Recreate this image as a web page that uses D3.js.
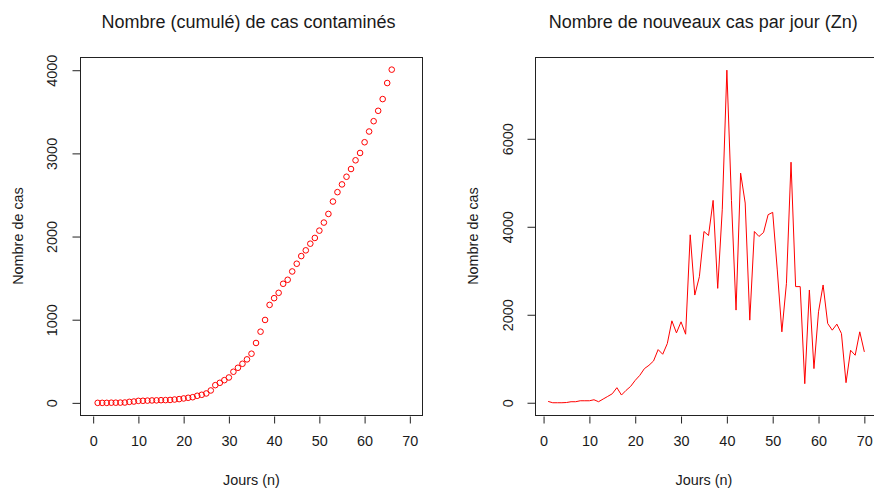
<!DOCTYPE html>
<meta charset="UTF-8">

<head>
    <title>Nombre de cas</title>
</head>
<style>
    body {
        margin: 0;
        background: #fff;
    }

    text {
        font-family: "Liberation Sans", Arial, sans-serif;
        fill: #1a1a1a;
    }
</style>

<body>
    <div id="chart"></div>

    <script src="https://cdn.jsdelivr.net/npm/d3@7"></script>
    <script type="text/javascript">

        // jours 1..66 (gauche) et 1..70 (droite)
        var cumulDays = d3.range(1, 67);
        var cumulCases = [0, 0, 0, 2, 2, 3, 4, 12, 16, 24,
            25, 27, 29, 30, 32, 33, 35, 40, 45, 53,
            61, 68, 85, 97, 113, 149, 213, 241, 273, 305,
            374, 422, 470, 523, 591, 720, 856, 997, 1178, 1259,
            1323, 1432, 1480, 1580, 1673, 1765, 1834, 1914, 1983, 2071,
            2168, 2272, 2421, 2534, 2627, 2719, 2812, 2917, 3005, 3134,
            3263, 3387, 3512, 3653, 3846, 4007];

        var newDays = d3.range(1, 71);
        var newCases = [30, 0, 0, 0, 5, 23, 23, 45, 45, 45,
            68, 23, 84, 144, 205, 342, 175, 281, 372, 509,
            623, 775, 851, 950, 1208, 1102, 1345, 1862, 1588, 1839,
            1558, 3817, 2448, 2866, 3893, 3802, 4600, 2600, 4400, 7560,
            4600, 2106, 5220, 4540, 1878, 3893, 3780, 3870, 4275, 4328,
            3019, 1612, 2715, 5468, 2640, 2640, 433, 2563, 776, 2068,
            2677, 1802, 1650, 1787, 1574, 456, 1193, 1080, 1612, 1156];

        // axes
        var xTicks = [0, 10, 20, 30, 40, 50, 60, 70];
        var cumulTicks = [0, 1000, 2000, 3000, 4000];
        var newTicks = [0, 2000, 4000, 6000];
        var cumulXLim = [-2.8, 72.8];
        var cumulYLim = [-152, 4153];
        var newXLim = [-1.76, 72.76];
        var newYLim = [-290, 7848];

        var w = 874;
        var h = 490;
        var svg = d3.select("#chart")
            .append("svg")
            .attr("width", w)
            .attr("height", h);

        function panel(opt) {
            var x = d3.scaleLinear().domain(opt.xlim).range([opt.left, opt.right]);
            var y = d3.scaleLinear().domain(opt.ylim).range([415.5, 57.5]);
            var g = svg.append("g");

            // cadre
            g.append("rect")
                .attr("x", opt.left)
                .attr("y", 57.5)
                .attr("width", opt.right - opt.left)
                .attr("height", 358)
                .attr("fill", "none")
                .attr("stroke", "#222")
                .attr("stroke-width", 1);

            // axe x
            var xa = g.append("g").attr("transform", "translate(0,416.5)")
                .call(d3.axisBottom(x).tickValues(xTicks).tickSize(7).tickPadding(12).tickFormat(d3.format("d")));
            xa.select(".domain").attr("stroke", "none");
            xa.selectAll("line").attr("stroke", "#222");
            xa.selectAll("text")
                .style("font-size", "14.4px")
                .style("font-family", "Liberation Sans, Arial, sans-serif")
                .attr("fill", "#1a1a1a");

            // axe y
            var ya = g.append("g").attr("transform", "translate(" + opt.left + ",0)")
                .call(d3.axisLeft(y).tickValues(opt.yTicks).tickSize(8).tickFormat(d3.format("d")));
            ya.select(".domain").attr("stroke", "none");
            ya.selectAll("line").attr("stroke", "#222");
            ya.selectAll("text")
                .style("font-size", "14.4px")
                .style("font-family", "Liberation Sans, Arial, sans-serif")
                .attr("fill", "#1a1a1a")
                .attr("x", null)
                .attr("dy", null)
                .attr("text-anchor", "middle")
                .attr("transform", "translate(" + (opt.yLabelX - opt.left) + ",0) rotate(-90)")
                .attr("dominant-baseline", "central");

            // titres
            g.append("text")
                .attr("x", (opt.left + opt.right) / 2 - 3)
                .attr("y", 22)
                .attr("text-anchor", "middle")
                .attr("dominant-baseline", "central")
                .style("font-size", "18px")
                .text(opt.title);
            g.append("text")
                .attr("x", x(35))
                .attr("y", 480)
                .attr("text-anchor", "middle")
                .attr("dominant-baseline", "central")
                .style("font-size", "14.4px")
                .text("Jours (n)");
            g.append("text")
                .attr("transform", "translate(" + opt.titleX + ",236) rotate(-90)")
                .attr("text-anchor", "middle")
                .attr("dominant-baseline", "central")
                .style("font-size", "14.4px")
                .text("Nombre de cas");

            return { x: x, y: y, g: g };
        }

        // gauche : points
        var p1 = panel({
            left: 80.5, right: 422.5, xlim: cumulXLim, ylim: cumulYLim,
            yTicks: cumulTicks, yLabelX: 52, titleX: 18,
            title: "Nombre (cumulé) de cas contaminés"
        });
        p1.g.selectAll("circle")
            .data(cumulDays)
            .enter()
            .append("circle")
            .attr("cx", function (d, i) { return p1.x(d); })
            .attr("cy", function (d, i) { return p1.y(cumulCases[i]); })
            .attr("r", 2.8)
            .attr("fill", "none")
            .attr("stroke", "#ff0000")
            .attr("stroke-width", 1);

        // droite : ligne
        var p2 = panel({
            left: 535.5, right: 877, xlim: newXLim, ylim: newYLim,
            yTicks: newTicks, yLabelX: 508, titleX: 473,
            title: "Nombre de nouveaux cas par jour (Zn)"
        });
        var line = d3.line()
            .x(function (d, i) { return p2.x(d); })
            .y(function (d, i) { return p2.y(newCases[i]); });
        p2.g.append("path")
            .datum(newDays)
            .attr("d", line)
            .attr("fill", "none")
            .attr("stroke", "#ff0000")
            .attr("stroke-width", 1);

    </script>
</body>

</html>
